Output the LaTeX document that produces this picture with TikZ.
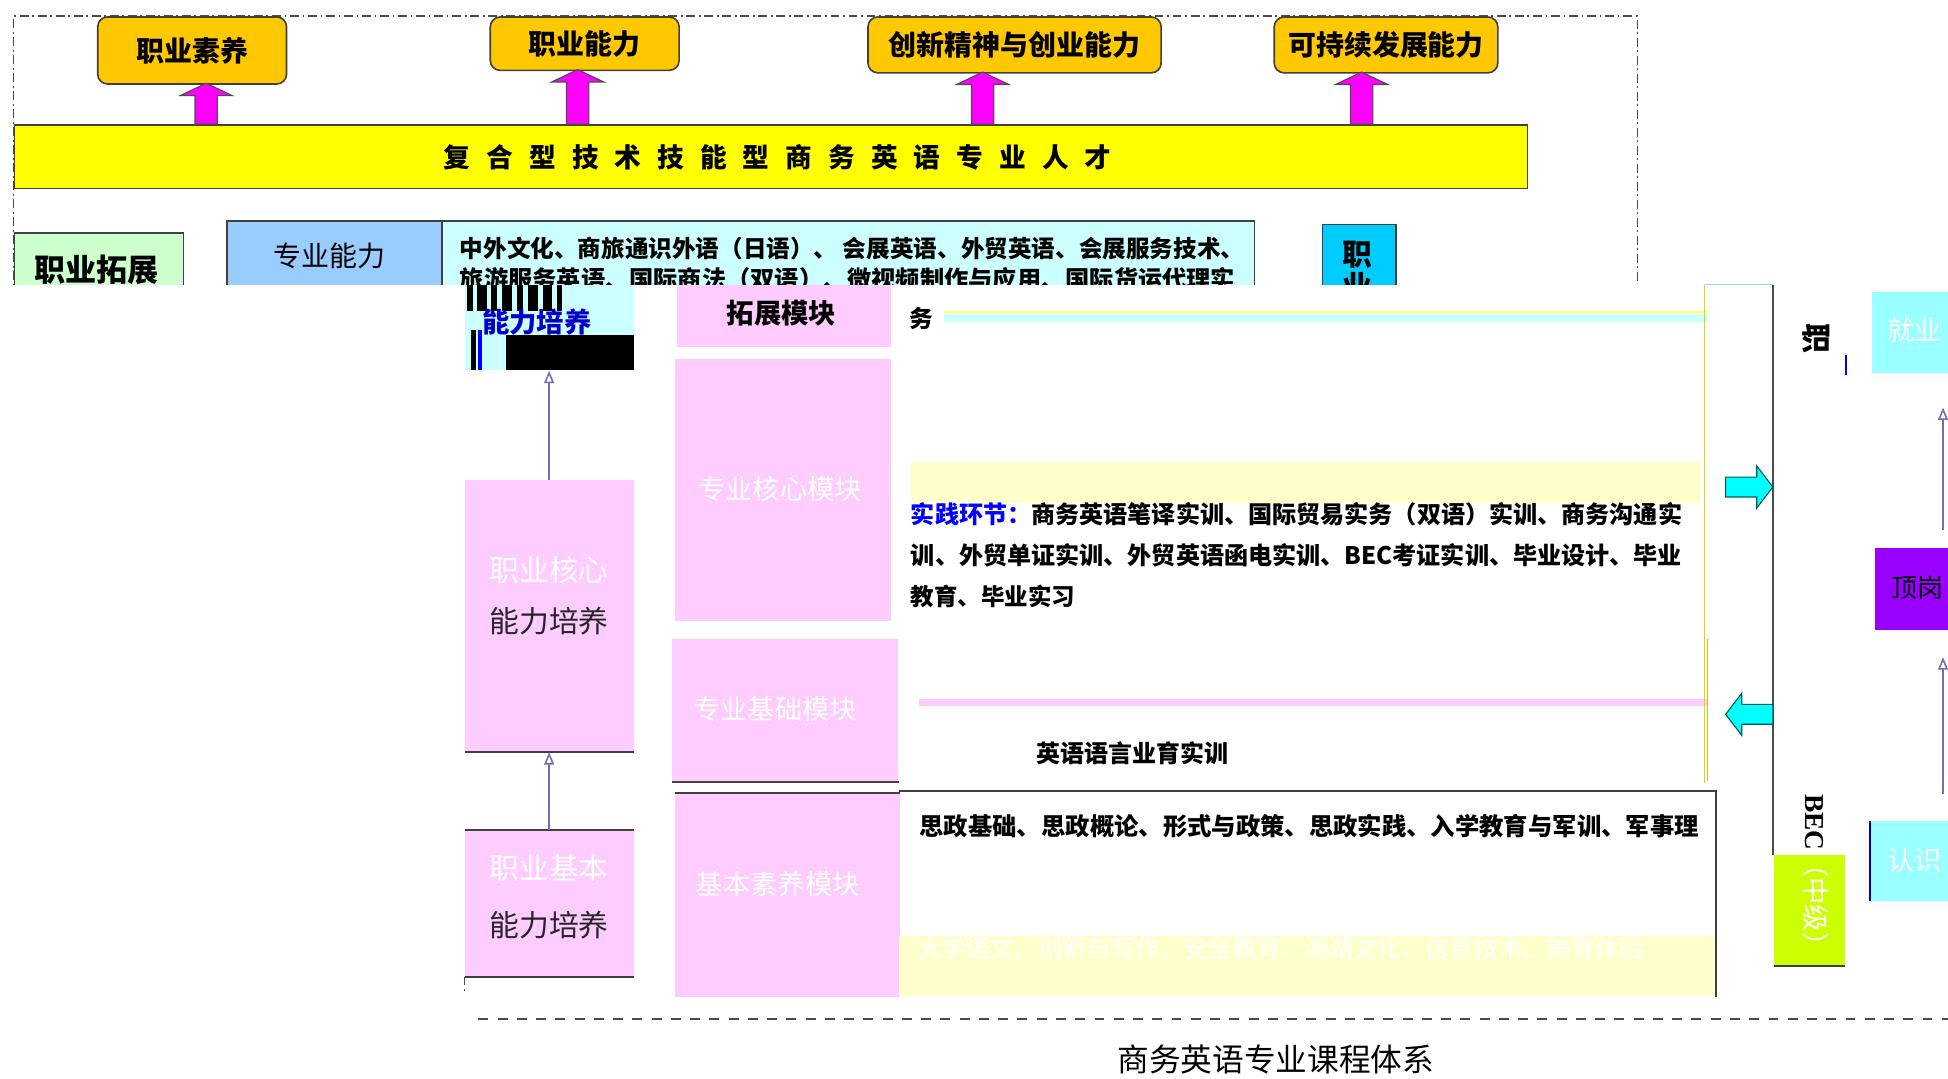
\documentclass[tikz,border=0pt]{standalone}
\usepackage{fontspec}
\setmainfont{Noto Sans CJK SC}
\newfontfamily\serifb{Liberation Serif}
\usetikzlibrary{arrows.meta,calc}
\definecolor{orng}{HTML}{FFC800}
\definecolor{ybar}{HTML}{FFFF00}
\definecolor{lgreen}{HTML}{CCFFCC}
\definecolor{lblue}{HTML}{99CCFF}
\definecolor{lcyan}{HTML}{CCFFFF}
\definecolor{skyb}{HTML}{00CCFF}
\definecolor{pinkm}{HTML}{FFCCFF}
\definecolor{lyel}{HTML}{FFFFCC}
\definecolor{cyanA}{HTML}{00FFFF}
\definecolor{lime}{HTML}{CCFF00}
\definecolor{purp}{HTML}{9900FF}
\definecolor{aqua}{HTML}{99FFFF}
\definecolor{magA}{HTML}{FF00FF}
\definecolor{linkc}{HTML}{7070B0}
\tikzset{
  ubox/.style={draw=black!75, line width=1.3pt, inner sep=0pt, anchor=north west},
  fillbox/.style={inner sep=0pt, anchor=north west, draw=none},
  fr/.style={font=\fontsize{#1}{#1}\selectfont},
  fbold/.style={font=\fontsize{#1}{#1}\selectfont\bfseries},
  dk/.style={draw=black!75, line width=1.6pt},
  dashdotline/.style={draw=black!70, line width=1.1pt, dash pattern=on 7pt off 3pt on 1.5pt off 3pt},
  bottomdash/.style={draw=black!70, line width=1.4pt, dash pattern=on 8pt off 7.5pt},
  magarr/.style={fill=magA, draw=black!70, line width=0.9pt},
  cyanarr/.style={fill=cyanA, draw=teal!70!black, line width=0.9pt},
  linkarr/.style={draw=linkc, line width=1.3pt, -{Triangle[open, length=10pt, width=8pt]}},
  lw/.style={anchor=west, inner sep=0pt},
}
% box: name, style, x1, y1, x2, y2, text
\newcommand\rbox[7]{\node[#2, minimum width={#5-#3}, minimum height={#6-#4}] (#1) at (#3,#4) {#7};}
% upward block arrow from coordinate #1 (base) to #2 (tip)
\newcommand\blockup[2]{\draw[magarr] let \p1=(#1), \p2=(#2) in
  (\x1-9pt,\y1) -- (\x1-9pt,\y2-10pt) -- (\x1-21pt,\y2-10pt) -- (\x1,\y2) --
  (\x1+21pt,\y2-10pt) -- (\x1+9pt,\y2-10pt) -- (\x1+9pt,\y1) -- cycle;}
% horizontal block arrow from #1 (tail) to #2 (tip)
\newcommand\blockh[2]{\draw[cyanarr] let \p1=(#1), \p2=(#2), \n1={sign(\x2-\x1)} in
  (\x1,\y1+8pt) -- (\x2-\n1*13pt,\y1+8pt) -- (\x2-\n1*13pt,\y1+17pt) -- (\x2,\y1) --
  (\x2-\n1*13pt,\y1-17pt) -- (\x2-\n1*13pt,\y1-8pt) -- (\x1,\y1-8pt) -- cycle;}
\begin{document}
\begin{tikzpicture}[x=1pt,y=-1pt]
\useasboundingbox (0,0) rectangle (1568,868);
\clip (0,0) rectangle (1568,868);
\fill[white] (0,0) rectangle (1568,868);

% ================= upper layer =================
\draw[dashdotline] (11,240) -- (11,13) -- (1318,13) -- (1318,240);

\rbox{b1}{ubox, fill=orng, rounded corners=8pt, fbold=22.5}{78}{13}{230}{67}{职业素养}
\rbox{b2}{ubox, fill=orng, rounded corners=8pt, fbold=22.5}{394}{13}{546}{56}{职业能力}
\rbox{b3}{ubox, fill=orng, rounded corners=8pt, fbold=22.5}{698}{13}{934}{58}{创新精神与创业能力}
\rbox{b4}{ubox, fill=orng, rounded corners=8pt, fbold=22.5}{1025}{13}{1205}{58}{可持续发展能力}

\rbox{bar}{ubox, fill=ybar}{11}{100}{1229}{151}{}
\node[fbold=21.5] (bartext) at (626,127) {\addfontfeatures{LetterSpace=60}复合型技术技能型商务英语专业人才};

\coordinate (a1) at (166,100); \coordinate (a1t) at (166,67);
\coordinate (a2) at (465,100); \coordinate (a2t) at (465,56);
\coordinate (a3) at (791,100); \coordinate (a3t) at (791,58);
\coordinate (a4) at (1096,100); \coordinate (a4t) at (1096,58);
\blockup{a1}{a1t}
\blockup{a2}{a2t}
\blockup{a3}{a3t}
\blockup{a4}{a4t}

\rbox{ext}{ubox, fill=lgreen}{11}{187}{147}{270}{}
\node[fbold=25] (extt) at (78,217) {职业拓展};
\rbox{prof}{ubox, fill=lblue}{182}{177}{355}{270}{}
\node[fr=22.5] (proft) at (265,206) {专业能力};
\rbox{cont}{ubox, fill=lcyan}{355}{177}{1009}{270}{}
\node[lw, fbold=19] (c1) at (370,200) {中外文化、商旅通识外语（日语）、 会展英语、外贸英语、会展服务技术、};
\node[lw, fbold=19.5] (c2) at (370,225) {旅游服务英语、国际商法（双语）、微视频制作与应用、国际货运代理实};
\rbox{zy}{ubox, fill=skyb}{1064}{180}{1123}{270}{}
\node[fbold=24] (zy1) at (1093,205) {职};
\node[fbold=24] (zy2) at (1093,230) {业};

% ================= overlay =================
\fill[white] (0,229) rectangle (1568,868);

% ================= lower layer =================
% glitched top-left block
\rbox{lext}{fillbox, fill=lcyan}{374}{229}{510}{298}{}
\foreach \a/\b in {376/381,384/392,395/400,404/412,416/421,425/433,437/444,448/452}
  {\fill[black] (\a,229) rectangle (\b,250);}
\fill[black] (407,270) rectangle (510,298);
\fill[black] (379,266) rectangle (383,298);
\fill[blue] (385,266) rectangle (388,298);
\node[fbold=22, text=blue!80!black] (lextt) at (432,259) {能力培养};

% left column
\rbox{core}{fillbox, fill=pinkm}{374}{386}{510}{605}{}
\draw[dk] (core.south west) -- (core.south east);
\node[fr=24, text=white] (core1) at (442,459) {职业核心};
\node[fr=24, text=black!85] (core2) at (442,500) {能力培养};
\rbox{basic}{fillbox, fill=pinkm}{374}{668}{510}{786}{}
\draw[dk] (basic.north west) -- (basic.north east);
\draw[dk] (basic.south west) -- (basic.south east);
\node[fr=24, text=white] (basic1) at (442,699) {职业基本};
\node[fr=24, text=black!85] (basic2) at (442,745) {能力培养};
\draw[linkarr] (core.north -| 442,0) -- (lext.south -| 442,0);
\draw[linkarr] (basic.north -| 442,0) -- (core.south -| 442,0);
\draw[dashdotline] (374,786) -- (374,800);

% module column
\rbox{m1}{fillbox, fill=pinkm}{545}{229}{717}{279}{}
\node[fbold=22] (m1t) at (629,252) {拓展模块};
\rbox{m2}{fillbox, fill=pinkm}{543}{289}{717}{500}{}
\node[fr=22, text=white] (m2t) at (628,394) {专业核心模块};
\rbox{m3}{fillbox, fill=pinkm}{541}{514}{723}{629}{}
\draw[dk] (m3.south west) -- (m3.south east);
\node[fr=22, text=white] (m3t) at (624,571) {专业基础模块};
\rbox{m4}{fillbox, fill=pinkm}{543}{638}{724}{802}{}
\draw[dk] (m4.north west) -- (m4.north east);
\node[fr=22, text=white] (m4t) at (626,712) {基本素养模块};

% row 1
\node[lw, fbold=19] (r1t) at (732,256) {务};
\fill[ybar!60] (760,250) rectangle (1374,252);
\fill[lcyan] (760,253) rectangle (1374,259);

% row 2
\fill[lyel] (733,372) rectangle (1368,405);
\node[lw, fbold=19.4] (r2a) at (733,414) {\textcolor{blue}{实践环节：}商务英语笔译实训、国际贸易实务（双语）实训、商务沟通实};
\node[lw, fbold=19.4] (r2b) at (733,447) {训、外贸单证实训、外贸英语函电实训、BEC考证实训、毕业设计、毕业};
\node[lw, fbold=18.9] (r2c) at (733,480) {教育、毕业实习};

% row 3
\fill[pinkm] (740,563) rectangle (1374,568);
\node[lw, fbold=19.3] (r3t) at (834,606) {英语语言业育实训};
\draw[ybar!80!black, line width=0.8pt] (1374,514) -- (1374,629);

% row 4
\rbox{r4}{fillbox, fill=white}{724}{637}{1381}{802}{}
\fill[lyel] (724,753) rectangle (1381,802);
\draw[dk] (r4.north west) -- (r4.north east) -- (r4.south east);
\node[lw, fbold=19.6] (r4a) at (740,665) {思政基础、思政概论、形式与政策、思政实践、入学教育与军训、军事理};
\node[lw, fr=19.5, text=white] (r4b) at (738,763) {大学语文、创新与写作、安全教育、湘湖文化、信息技术、美育体验};

% right frame and arrows
\draw[ybar!85!black, line width=1pt] (1372,229) -- (1372,630);
\draw[black!70, line width=1.4pt] (1427,229) -- (1427,688);
\draw[lblue, line width=1.4pt] (1372,229) -- (1427,229);
\coordinate (ra1) at (1389,392); \coordinate (ra2) at (1427,392);
\coordinate (la1) at (1427,575); \coordinate (la2) at (1389,575);
\blockh{ra1}{ra2}
\blockh{la1}{la2}
\node[fbold=24, rotate=-90] (vt1) at (1462,272) {职};
\draw[blue, line width=1.5pt] (1486,286) -- (1486,302);

\rbox{bec}{fillbox, fill=lime}{1428}{688}{1485}{777}{}
\draw[dk] (bec.south west) -- (bec.south east);
\node[lw, rotate=-90, font=\fontsize{22}{22}\selectfont] (bect) at (1462,639) {{\serifb\bfseries BEC}\textcolor{white}{（中级）}};

% far right column
\rbox{jy}{fillbox, fill=aqua}{1507}{235}{1620}{300}{}
\node[lw, fr=22, text=white] (jyt) at (1519,266) {就业};
\rbox{dg}{fillbox, fill=purp}{1509}{441}{1620}{507}{}
\node[lw, fr=21, text=black] (dgt) at (1522,473) {顶岗};
\rbox{rs}{fillbox, fill=aqua}{1505}{661}{1620}{725}{}
\draw[blue!70!black, line width=1.3pt] (rs.north west) -- (rs.south west);
\node[lw, fr=22, text=white] (rst) at (1519,692) {认识};
\coordinate (k1) at (1564,427); \coordinate (k1t) at (1564,328);
\coordinate (k2) at (1564,639); \coordinate (k2t) at (1564,529);
\draw[linkarr] (k1) -- (k1t);
\draw[linkarr] (k2) -- (k2t);

% bottom
\draw[bottomdash] (385,820) -- (1568,820);
\node[fr=25.5] (caption) at (1027,853) {商务英语专业课程体系};
\end{tikzpicture}
\end{document}
